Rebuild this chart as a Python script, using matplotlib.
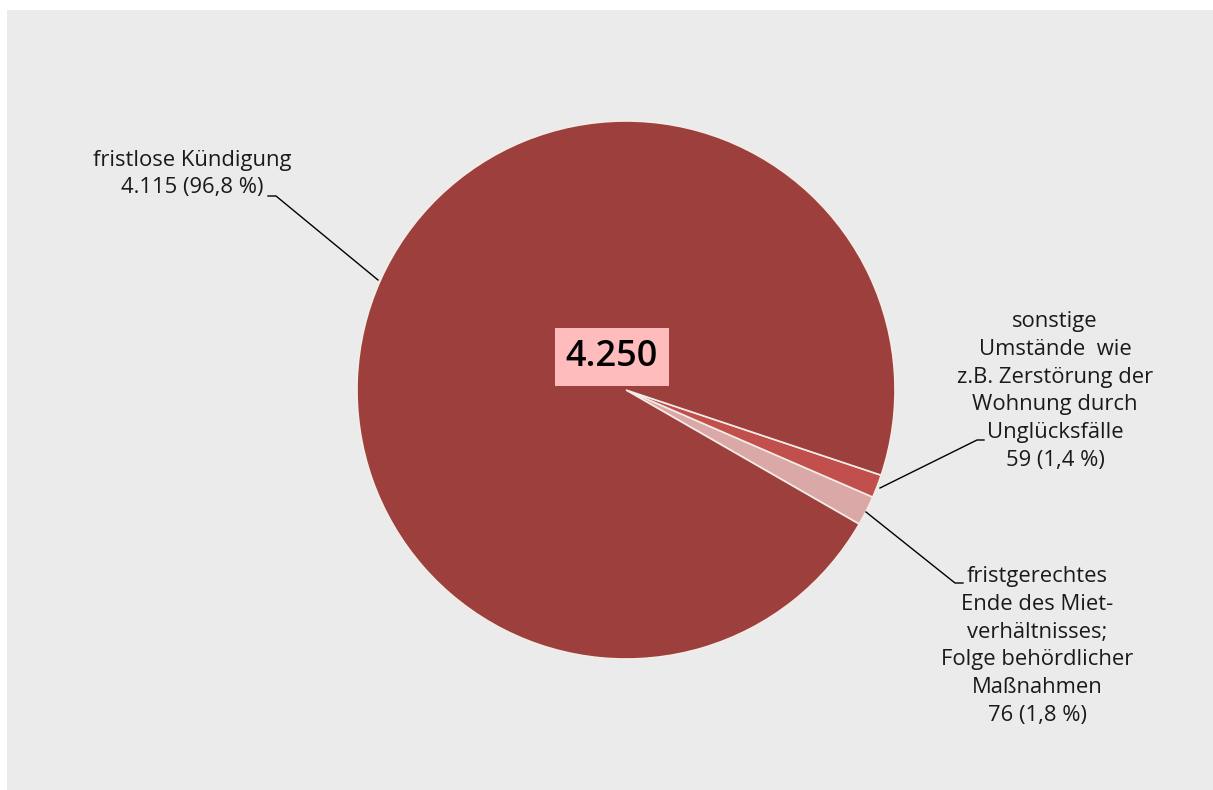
import matplotlib
matplotlib.use("Agg")
import matplotlib.pyplot as plt
from matplotlib.patches import Rectangle

# ---- data ----
categories = [
    "fristgerechtes\nEnde des Miet-\nverhältnisses;\nFolge behördlicher\nMaßnahmen",
    "sonstige\nUmstände  wie\nz.B. Zerstörung der\nWohnung durch\nUnglücksfälle",
    "fristlose Kündigung",
]
values = [76, 59, 4115]
value_labels = ["76 (1,8 %)", "59 (1,4 %)", "4.115 (96,8 %)"]
total_label = "4.250"
colors = ["#d9a8a7", "#c14f4c", "#9c3f3d"]

W, H = 1213, 790
fig = plt.figure(figsize=(W / 100, H / 100), dpi=100, facecolor="white")
fig.patches.append(Rectangle((7 / W, 0), 1 - 7 / W, 1 - 10 / H,
                             transform=fig.transFigure, facecolor="#ebebeb",
                             edgecolor="none", zorder=-10))
ax = fig.add_axes([0, 0, 1, 1])
ax.set_zorder(1)
ax.patch.set_visible(False)

cx, cy, r = 626, H - 390, 269
ax.pie(values, colors=colors, startangle=-29.9, counterclock=True,
       center=(cx, cy), radius=r, frame=True,
       wedgeprops=dict(edgecolor="#f4ece6", linewidth=1.2))
ax.set_xlim(0, W)
ax.set_ylim(0, H)
ax.set_aspect("equal")
ax.axis("off")

font = "Open Sans"
tc = "#1a1a1a"
fs = 15.8
ls = 1.42

def Y(y):
    return H - y

# total label
ax.text(612, Y(357), total_label, ha="center", va="center", fontsize=26,
        family=font, fontweight="semibold", color="black",
        bbox=dict(boxstyle="square,pad=0.3", facecolor="#ffbcbc", edgecolor="none"))

# big slice label
ax.text(192, Y(174), categories[2] + "\n" + value_labels[2], ha="center", va="center",
        fontsize=fs, family=font, color=tc, linespacing=ls)
ax.plot([268, 276, 378], [Y(196), Y(196), Y(280)], color="black", lw=1)

# red slice label
ax.text(1055, Y(391), categories[1] + "\n" + value_labels[1], ha="center", va="center",
        fontsize=fs, family=font, color=tc, linespacing=ls)
ax.plot([880, 977, 984], [Y(488), Y(440), Y(440)], color="black", lw=1)

# pink slice label
ax.text(1037, Y(646), categories[0] + "\n" + value_labels[0], ha="center", va="center",
        fontsize=fs, family=font, color=tc, linespacing=ls)
ax.plot([866, 955, 963], [Y(512), Y(583), Y(583)], color="black", lw=1)

fig.savefig("out.png", dpi=100, facecolor="white")
